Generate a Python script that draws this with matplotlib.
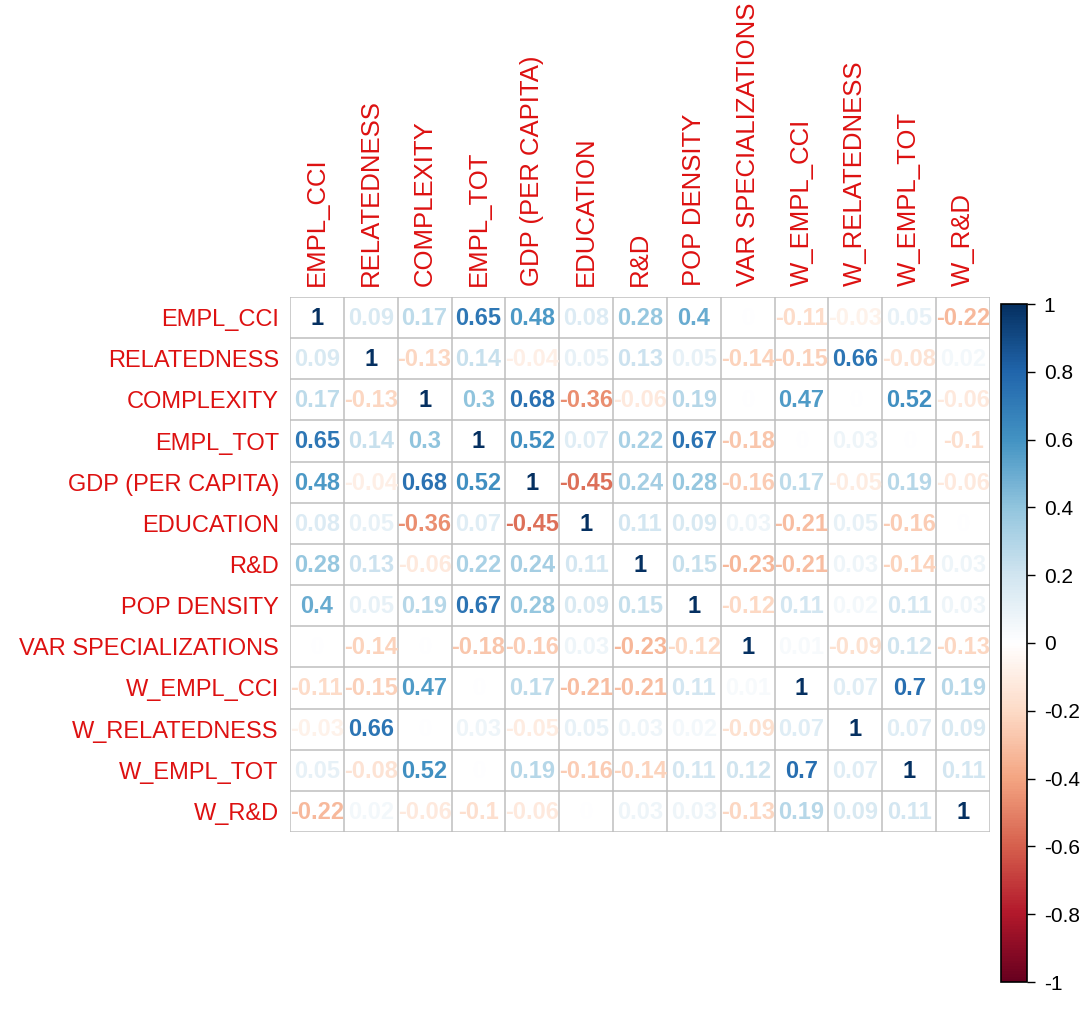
import numpy as np
import matplotlib
matplotlib.use('Agg')
import matplotlib.pyplot as plt
from matplotlib.colors import LinearSegmentedColormap, Normalize
from matplotlib.colorbar import ColorbarBase

plt.rcParams['font.family'] = ['Liberation Sans', 'DejaVu Sans']

LABELS = ['EMPL_CCI', 'RELATEDNESS', 'COMPLEXITY', 'EMPL_TOT', 'GDP (PER CAPITA)',
          'EDUCATION', 'R&D', 'POP DENSITY', 'VAR SPECIALIZATIONS', 'W_EMPL_CCI',
          'W_RELATEDNESS', 'W_EMPL_TOT', 'W_R&D']

# correlation rows (blank cells in the picture ~ 0)
row_empl_cci = [1, 0.09, 0.17, 0.65, 0.48, 0.08, 0.28, 0.4, 0.0, -0.11, -0.03, 0.05, -0.22]
row_related = [0.09, 1, -0.13, 0.14, -0.04, 0.05, 0.13, 0.05, -0.14, -0.15, 0.66, -0.08, 0.02]
row_complex = [0.17, -0.13, 1, 0.3, 0.68, -0.36, -0.06, 0.19, 0.0, 0.47, 0.0, 0.52, -0.06]
row_empl_tot = [0.65, 0.14, 0.3, 1, 0.52, 0.07, 0.22, 0.67, -0.18, 0.0, 0.03, 0.0, -0.1]
row_gdp = [0.48, -0.04, 0.68, 0.52, 1, -0.45, 0.24, 0.28, -0.16, 0.17, -0.05, 0.19, -0.06]
row_edu = [0.08, 0.05, -0.36, 0.07, -0.45, 1, 0.11, 0.09, 0.03, -0.21, 0.05, -0.16, 0.0]
row_rd = [0.28, 0.13, -0.06, 0.22, 0.24, 0.11, 1, 0.15, -0.23, -0.21, 0.03, -0.14, 0.03]
row_pop = [0.4, 0.05, 0.19, 0.67, 0.28, 0.09, 0.15, 1, -0.12, 0.11, 0.02, 0.11, 0.03]
row_var = [0.0, -0.14, 0.0, -0.18, -0.16, 0.03, -0.23, -0.12, 1, 0.01, -0.09, 0.12, -0.13]
row_w_cci = [-0.11, -0.15, 0.47, 0.0, 0.17, -0.21, -0.21, 0.11, 0.01, 1, 0.07, 0.7, 0.19]
row_w_rel = [-0.03, 0.66, 0.0, 0.03, -0.05, 0.05, 0.03, 0.02, -0.09, 0.07, 1, 0.07, 0.09]
row_w_tot = [0.05, -0.08, 0.52, 0.0, 0.19, -0.16, -0.14, 0.11, 0.12, 0.7, 0.07, 1, 0.11]
row_w_rd = [-0.22, 0.02, -0.06, -0.1, -0.06, 0.0, 0.03, 0.03, -0.13, 0.19, 0.09, 0.11, 1]

corr = np.array([row_empl_cci, row_related, row_complex, row_empl_tot, row_gdp, row_edu,
                 row_rd, row_pop, row_var, row_w_cci, row_w_rel, row_w_tot, row_w_rd])

CBAR_TICKS = [-1, -0.8, -0.6, -0.4, -0.2, 0, 0.2, 0.4, 0.6, 0.8, 1]

# corrplot RdBu palette
cmap = LinearSegmentedColormap.from_list('corr_rdbu', [
    '#67001F', '#B2182B', '#D6604D', '#F4A582', '#FDDBC7', '#FFFFFF',
    '#D1E5F0', '#92C5DE', '#4393C3', '#2166AC', '#053061'])
norm = Normalize(-1, 1)


def fmt(v):
    s = ('%.2f' % v).rstrip('0').rstrip('.')
    return '0' if s in ('-0', '') else s


W, H = 1085, 1011
fig = plt.figure(figsize=(W / 100, H / 100), dpi=100)
ax = fig.add_axes([290 / W, 1 - 832 / H, 700 / W, 535 / H])

n = len(LABELS)
ax.set_xlim(0, n)
ax.set_ylim(n, 0)
for k in range(n + 1):
    ax.axvline(k, color='#BEBEBE', lw=1.1)
    ax.axhline(k, color='#BEBEBE', lw=1.1)

for i in range(n):
    for j in range(n):
        v = corr[i, j]
        # thin text reads darker in the reference, push mid values a bit
        tv = np.sign(v) * abs(v) ** 0.75
        ax.text(j + 0.5, i + 0.52, fmt(v), ha='center', va='center',
                fontsize=17, fontweight='bold', color=cmap(norm(tv)))

ax.set_xticks(np.arange(n) + 0.5)
ax.set_xticklabels(LABELS, rotation=90, color='#DD1111', fontsize=18.5)
ax.xaxis.tick_top()
ax.set_yticks(np.arange(n) + 0.5)
ax.set_yticklabels(LABELS, color='#DD1111', fontsize=17)
ax.tick_params(length=0, pad=8)
for sp in ax.spines.values():
    sp.set_visible(False)

cax = fig.add_axes([1001 / W, 1 - 982 / H, 26 / W, 678 / H])
cb = ColorbarBase(cax, cmap=cmap, norm=norm, ticks=CBAR_TICKS)
cb.ax.set_yticklabels([fmt(t) for t in CBAR_TICKS], fontsize=15)
cb.ax.tick_params(length=6, width=1, pad=6)
cb.outline.set_linewidth(1.2)

fig.savefig('out.png', dpi=100)
